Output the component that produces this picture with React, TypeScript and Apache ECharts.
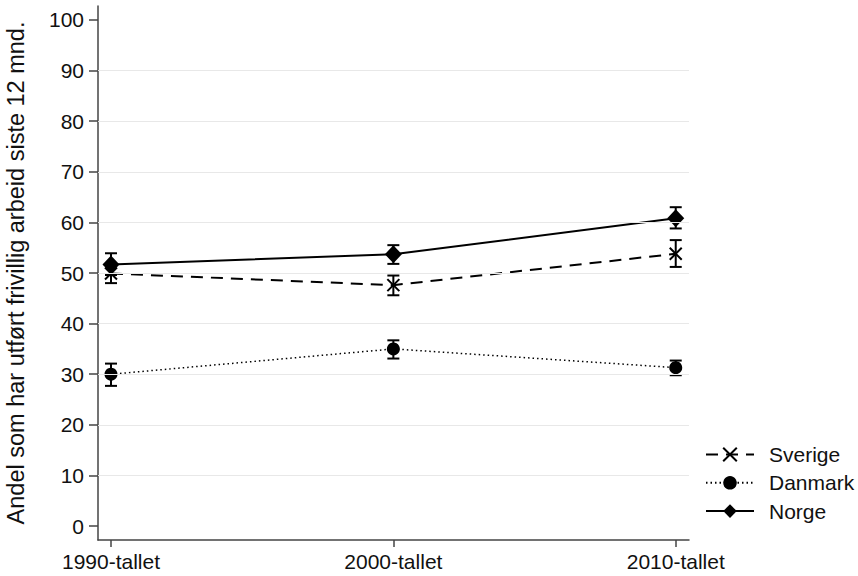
import React, { useEffect, useRef } from "react";
import * as echarts from "echarts";

const categories = ["1990-tallet", "2000-tallet", "2010-tallet"];
const xPositions = [0, 1, 2];
const yTicks = [0, 10, 20, 30, 40, 50, 60, 70, 80, 90, 100];
const gridValues = [10, 20, 30, 40, 50, 60, 70, 80, 90];

const sverige = [49.9, 47.6, 53.8];
const sverigeLo = [48.0, 45.6, 51.2];
const sverigeHi = [51.9, 49.5, 56.5];

const danmark = [30.0, 35.0, 31.3];
const danmarkLo = [27.7, 33.1, 29.8];
const danmarkHi = [32.1, 36.7, 32.7];

const norge = [51.7, 53.7, 60.8];
const norgeLo = [49.6, 51.8, 58.8];
const norgeHi = [53.9, 55.5, 63.0];

const yTitle = "Andel som har utført frivillig arbeid siste 12 mnd.";
const FONT = "'Liberation Sans', Arial, Helvetica, sans-serif";

const pts = (vals: number[]) => vals.map((v, i) => [xPositions[i], v]);
const bars = (lo: number[], hi: number[]) => lo.map((l, i) => [xPositions[i], l, hi[i]]);

const errorRender = (params: any, api: any) => {
  const x = api.value(0);
  const lo = api.value(1);
  const hi = api.value(2);
  const top = api.coord([x, hi]);
  const bot = api.coord([x, lo]);
  const w = 6;
  const style = { stroke: "#000", lineWidth: 2 };
  return {
    type: "group",
    children: [
      { type: "line", shape: { x1: top[0], y1: top[1], x2: bot[0], y2: bot[1] }, style },
      { type: "line", shape: { x1: top[0] - w, y1: top[1], x2: top[0] + w, y2: top[1] }, style },
      { type: "line", shape: { x1: bot[0] - w, y1: bot[1], x2: bot[0] + w, y2: bot[1] }, style },
    ],
  };
};

export default function App() {
  const ref = useRef<HTMLDivElement>(null);
  useEffect(() => {
    if (!ref.current) return;
    const chart = echarts.init(ref.current, null, { renderer: "svg" });
    const xMark = "path://M0,0L10,10M10,0L0,10";
    chart.setOption({
      animation: false,
      backgroundColor: "#fff",
      textStyle: { fontFamily: FONT },
      grid: { left: 98, top: 6, width: 591, height: 534, containLabel: false, outerBoundsMode: "none" },
      xAxis: {
        type: "value",
        min: -0.046,
        max: 2.047,
        splitLine: { show: false },
        axisLine: { show: true, onZero: false, lineStyle: { color: "#444", width: 1.5 } },
        axisTick: { show: true, customValues: xPositions, length: 7, lineStyle: { color: "#444", width: 1.5 } },
        axisLabel: {
          customValues: xPositions,
          formatter: (v: number) => categories[Math.round(v)],
          fontSize: 21,
          color: "#111",
          margin: 11,
          fontFamily: FONT,
        },
      },
      yAxis: {
        type: "value",
        min: -2.75,
        max: 102.75,
        splitLine: { show: false },
        axisLine: { show: true, onZero: false, lineStyle: { color: "#444", width: 1.5 } },
        axisTick: { show: true, customValues: yTicks, length: 9, lineStyle: { color: "#444", width: 1.5 } },
        axisLabel: { customValues: yTicks, fontSize: 21, color: "#111", margin: 14, fontFamily: FONT },
        name: yTitle,
        nameLocation: "middle",
        nameRotate: 90,
        nameGap: 70,
        nameTextStyle: { fontSize: 23.5, color: "#111", fontFamily: FONT },
      },
      legend: {
        orient: "vertical",
        left: 705,
        top: 444,
        padding: 0,
        itemWidth: 48,
        itemHeight: 17,
        itemGap: 7.3,
        data: ["Sverige", "Danmark", "Norge"],
        textStyle: { fontSize: 21, color: "#111", padding: [0, 0, 0, 10], fontFamily: FONT, lineHeight: 21 },
      },
      series: [
        {
          name: "grid",
          type: "line",
          data: [],
          z: 0,
          silent: true,
          markLine: {
            silent: true,
            symbol: "none",
            label: { show: false },
            lineStyle: { color: "#e8e8e8", type: "solid", width: 1 },
            data: gridValues.map((v) => ({ yAxis: v })),
          },
        },
        {
          name: "Sverige",
          type: "line",
          data: pts(sverige),
          symbol: xMark,
          symbolSize: 12,
          itemStyle: { color: "transparent", borderColor: "#000", borderWidth: 2 },
          lineStyle: { color: "#000", width: 2, type: [12, 8] },
          z: 3,
        },
        {
          name: "Danmark",
          type: "line",
          data: pts(danmark),
          symbol: "circle",
          symbolSize: 13,
          itemStyle: { color: "#000" },
          lineStyle: { color: "#000", width: 1.5, type: [1.5, 3] },
          z: 3,
        },
        {
          name: "Norge",
          type: "line",
          data: pts(norge),
          symbol: "diamond",
          symbolSize: [17, 18],
          itemStyle: { color: "#000" },
          lineStyle: { color: "#000", width: 2 },
          z: 3,
        },
        { name: "errS", type: "custom", renderItem: errorRender, data: bars(sverigeLo, sverigeHi), z: 4, silent: true },
        { name: "errD", type: "custom", renderItem: errorRender, data: bars(danmarkLo, danmarkHi), z: 4, silent: true },
        { name: "errN", type: "custom", renderItem: errorRender, data: bars(norgeLo, norgeHi), z: 4, silent: true },
      ],
    });
    return () => chart.dispose();
  }, []);
  return (
    <div
      ref={ref}
      style={{ position: "absolute", left: 0, top: 0, width: 858, height: 576, background: "#fff" }}
    />
  );
}
